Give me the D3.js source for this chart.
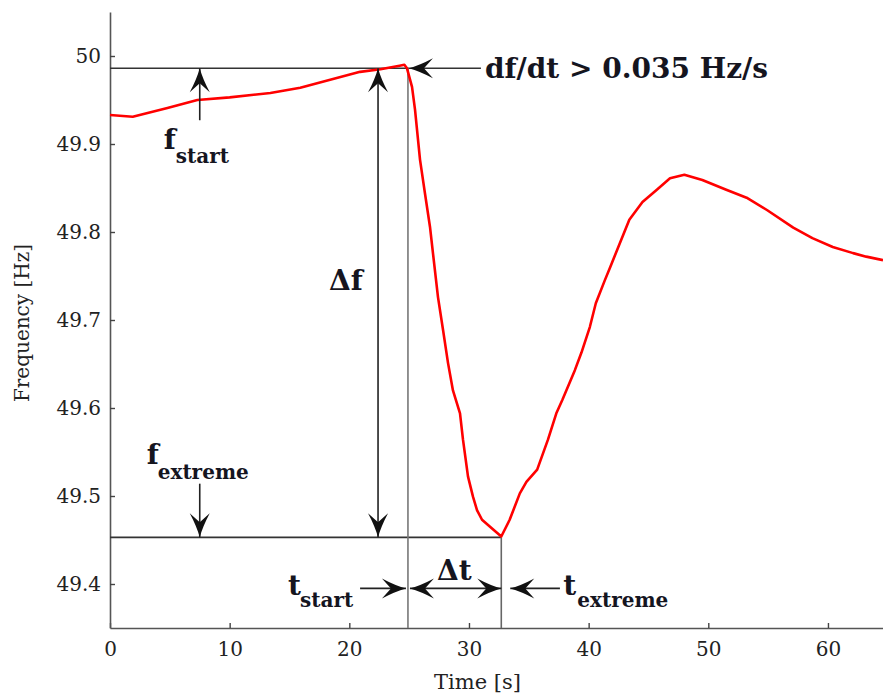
<!DOCTYPE html>
<html>
<head>
<meta charset="utf-8">
<script src="https://cdn.jsdelivr.net/npm/d3@7/dist/d3.min.js"></script>
<style>
  html, body { margin: 0; padding: 0; background: #fff; }
  svg { display: block; }
</style>
</head>
<body>
<svg id="chart" width="883" height="696"></svg>
<script>
// ---------- data ----------
const time = [0, 1.9, 4.8, 7.3, 10.0, 13.4, 15.9, 18.4, 20.9, 22.6, 24.2, 24.6, 24.82, 25.24, 25.49, 25.91, 26.32,
  26.74, 26.99, 27.41, 27.83, 28.25, 28.66, 29.25, 29.5, 29.92, 30.34, 30.67, 31.09, 31.76, 32.7, 33.4, 34.25,
  34.8, 35.7, 36.6, 37.3, 37.8, 38.85, 39.4, 40.1, 40.6, 41.35, 41.8, 43.4, 44.5, 45.7, 46.8, 48.0, 49.5, 51.5,
  53.2, 54.9, 57.1, 58.7, 60.4, 62.1, 63.2, 64.6];
const freq = [49.933, 49.931, 49.941, 49.950, 49.953, 49.958, 49.964, 49.973, 49.982, 49.985, 49.989, 49.990, 49.986,
  49.965, 49.939, 49.882, 49.844, 49.806, 49.776, 49.726, 49.689, 49.651, 49.620, 49.594, 49.564, 49.522, 49.499,
  49.484, 49.473, 49.465, 49.454, 49.473, 49.503, 49.516, 49.530, 49.564, 49.594, 49.609, 49.643, 49.663, 49.692,
  49.719, 49.745, 49.760, 49.814, 49.834, 49.848, 49.861, 49.865, 49.859, 49.848, 49.839, 49.825, 49.805, 49.793,
  49.783, 49.776, 49.772, 49.768];

const xTicks = [0, 10, 20, 30, 40, 50, 60];
const yTicks = [49.4, 49.5, 49.6, 49.7, 49.8, 49.9, 50];
const yTickLabels = ["49.4", "49.5", "49.6", "49.7", "49.8", "49.9", "50"];
const xDomain = [0, 64.6];
const yDomain = [49.35, 50.05];

// marker values: [start, extreme]
const markerTimes = [24.9, 32.7];
const markerFreqs = [49.986, 49.453];
const xLabel = "Time [s]";
const yLabel = "Frequency [Hz]";
const rateLabel = "df/dt > 0.035 Hz/s";

// ---------- setup ----------
const svg = d3.select("#chart");
const x = d3.scaleLinear().domain(xDomain).range([110, 883]);
const y = d3.scaleLinear().domain(yDomain).range([628, 12]);

const serif = "'DejaVu Serif', serif";
const ink = "#15151f";

// ---------- axes ----------
const xAxis = svg.append("g").attr("transform", `translate(0,${y(yDomain[0])})`)
  .call(d3.axisBottom(x).tickValues(xTicks).tickSizeInner(-5).tickSizeOuter(0).tickPadding(14).tickFormat(d3.format("d")));
const yAxis = svg.append("g").attr("transform", `translate(${x(xDomain[0])},0)`)
  .call(d3.axisLeft(y).tickValues(yTicks).tickSizeInner(-5).tickSizeOuter(0).tickPadding(9)
    .tickFormat((d, i) => yTickLabels[i]));
[xAxis, yAxis].forEach(g => {
  g.select(".domain").attr("stroke", "#555").attr("stroke-width", 1.6);
  g.selectAll(".tick line").attr("stroke", "#444").attr("stroke-width", 1.4);
  g.selectAll(".tick text").attr("font-family", serif).attr("font-size", 20).attr("fill", "#222");
});

svg.append("text").attr("x", (x(xDomain[0]) + x(xDomain[1])) / 2 - 19).attr("y", 689)
  .attr("text-anchor", "middle").attr("font-family", serif).attr("font-size", 21).attr("fill", "#222")
  .text(xLabel);
svg.append("text").attr("transform", `translate(29,${(y(yDomain[0]) + y(yDomain[1])) / 2 + 3}) rotate(-90)`)
  .attr("text-anchor", "middle").attr("font-family", serif).attr("font-size", 20).attr("fill", "#222")
  .text(yLabel);

// ---------- marker lines ----------
const [tS, tE] = markerTimes;
const [fS, fE] = markerFreqs;
const rateArrowTail = 31.0;

svg.append("line").attr("x1", x(0)).attr("x2", x(rateArrowTail)).attr("y1", y(fS)).attr("y2", y(fS))
  .attr("stroke", "#333").attr("stroke-width", 1.6);
svg.append("line").attr("x1", x(0)).attr("x2", x(tE)).attr("y1", y(fE)).attr("y2", y(fE))
  .attr("stroke", "#333").attr("stroke-width", 1.6);
svg.append("line").attr("x1", x(tS)).attr("x2", x(tS)).attr("y1", y(fS)).attr("y2", y(yDomain[0]))
  .attr("stroke", "#777").attr("stroke-width", 1.6);
svg.append("line").attr("x1", x(tE)).attr("x2", x(tE)).attr("y1", y(fE)).attr("y2", y(yDomain[0]))
  .attr("stroke", "#666").attr("stroke-width", 1.6);

// ---------- curve ----------
const pts = time.map((t, i) => [t, freq[i]]);
svg.append("path").datum(pts)
  .attr("fill", "none").attr("stroke", "#ff0000").attr("stroke-width", 2.6).attr("stroke-linejoin", "round")
  .attr("d", d3.line().x(d => x(d[0])).y(d => y(d[1])));

// ---------- arrows ----------
function head(tx, ty, ang) {
  const L = 24, W = 10, N = 15;
  const c = Math.cos(ang), s = Math.sin(ang);
  const p = (a, b) => [tx - a * c - b * s, ty - a * s + b * c];
  const a1 = p(L, W), a2 = p(L, -W), n = p(N, 0);
  const q1 = p(L * 0.45, W * 0.3), q2 = p(L * 0.45, -W * 0.3);
  const d = `M${tx},${ty}Q${q1.join(",")} ${a1.join(",")}L${n.join(",")}L${a2.join(",")}Q${q2.join(",")} ${tx},${ty}Z`;
  svg.append("path").attr("d", d).attr("fill", "#111");
}
function arrowLine(x1, y1, x2, y2, heads) {
  svg.append("line").attr("x1", x1).attr("y1", y1).attr("x2", x2).attr("y2", y2)
    .attr("stroke", "#222").attr("stroke-width", 1.6);
  const ang = Math.atan2(y2 - y1, x2 - x1);
  if (heads.includes("end")) head(x2, y2, ang);
  if (heads.includes("start")) head(x1, y1, ang + Math.PI);
}

const fArrowT = 7.5;
const dfArrowT = 22.4;
const tArrowF = 49.395;
arrowLine(x(fArrowT), y(49.927), x(fArrowT), y(fS), ["end"]);
arrowLine(x(fArrowT), y(49.514), x(fArrowT), y(fE), ["end"]);
arrowLine(x(dfArrowT), y(fS), x(dfArrowT), y(fE), ["start", "end"]);
head(x(tS) + 1, y(fS), Math.PI);
arrowLine(x(20.9), y(tArrowF), x(tS) - 2, y(tArrowF), ["end"]);
arrowLine(x(tS) + 2, y(tArrowF), x(tE), y(tArrowF), ["start", "end"]);
arrowLine(x(37.6), y(tArrowF), x(tE) + 9, y(tArrowF), ["end"]);

// ---------- labels ----------
function lbl(xp, yp, main, sub, mainSize, subSize, subDx, subDy) {
  svg.append("text").attr("x", xp).attr("y", yp).attr("font-family", serif)
    .attr("font-weight", "bold").attr("fill", ink).attr("font-size", mainSize).text(main);
  if (sub) {
    svg.append("text").attr("x", xp + subDx).attr("y", yp + subDy).attr("font-family", serif)
      .attr("font-weight", "bold").attr("fill", ink).attr("font-size", subSize).text(sub);
  }
}
lbl(x(fArrowT) - 36, y(fS) + 81, "f", "start", 28, 20, 12, 14);
lbl(x(fArrowT) - 53, y(fE) - 73, "f", "extreme", 28, 20, 11, 15);
lbl(x(dfArrowT) - 49, 290, "Δf", null, 28);
lbl(x(tS) - 120, y(tArrowF) + 7, "t", "start", 28, 20, 12, 12);
lbl(x(tS) + 29, y(tArrowF) - 8, "Δt", null, 28);
lbl(x(tE) + 62, y(tArrowF) + 7, "t", "extreme", 28, 20, 14, 12);
svg.append("text").attr("x", x(rateArrowTail) + 4).attr("y", y(fS) + 10)
  .attr("font-family", serif).attr("font-weight", "bold").attr("font-size", 28).attr("fill", ink)
  .text(rateLabel);
</script>
</body>
</html>
